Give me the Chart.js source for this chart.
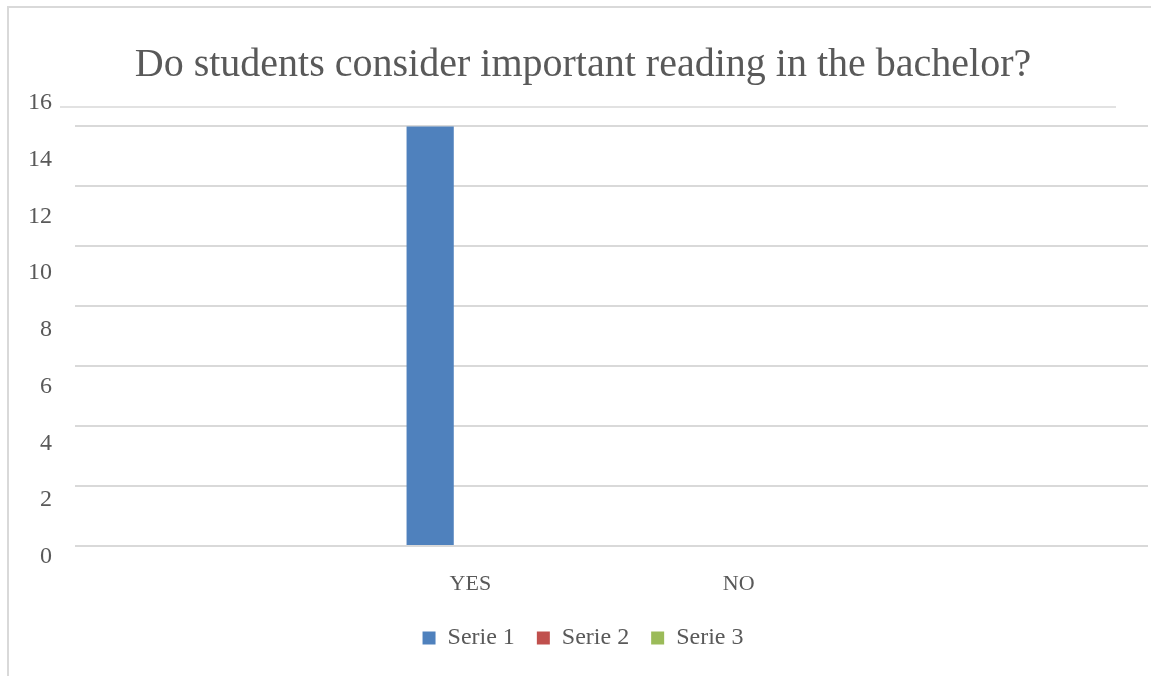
<!DOCTYPE html>
<html>
<head>
<meta charset="utf-8">
<script src="https://cdn.jsdelivr.net/npm/chart.js@4.4.1/dist/chart.umd.min.js"></script>
<style>
  html, body { margin: 0; padding: 0; background: #fff; }
  #frame { position: absolute; left: 7px; top: 6px; width: 1200px; height: 700px;
           border-left: 2px solid #d9d9d9; border-top: 2px solid #d9d9d9; }
  #wrap { position: absolute; left: 0; top: 0; width: 1151px; height: 676px; }
</style>
</head>
<body>
<div id="frame"></div>
<div id="wrap"><canvas id="mycanvas"></canvas></div>
<script>
var categories = ["", "YES", "NO", ""];
var serie1 = [null, 14, 0, null];
var serie2 = [null, 0, 0, null];
var serie3 = [null, 0, 0, null];
var yTicks = [0, 2, 4, 6, 8, 10, 12, 14, 16];

var textColor = "#595959";
var fontFamily = "'Liberation Serif', serif";

// short rule under the title
var titleRule = {
	id: "titleRule",
	beforeDatasetsDraw: function(chart) {
		var a = chart.chartArea, ctx = chart.ctx;
		ctx.save();
		ctx.strokeStyle = "#e2e2e2";
		ctx.lineWidth = 2;
		ctx.beginPath();
		ctx.moveTo(a.left - 15, a.top);
		ctx.lineTo(a.right - 32, a.top);
		ctx.stroke();
		ctx.restore();
	}
};

var chartdata = {
	labels: categories,
	datasets: [
		{ label: "Serie 1", data: serie1, backgroundColor: "#4f81bd" },
		{ label: "Serie 2", data: serie2, backgroundColor: "#c0504d" },
		{ label: "Serie 3", data: serie3, backgroundColor: "#9bbb59" }
	]
};

var ctx = document.getElementById("mycanvas");

var BarGraph = new Chart(ctx, {
	type: "bar",
	data: chartdata,
	plugins: [titleRule],
	options: {
		responsive: true,
		maintainAspectRatio: false,
		animation: false,
		layout: { padding: { left: 18, right: 3, top: 0, bottom: 16 } },
		datasets: { bar: { categoryPercentage: 0.528, barPercentage: 1, borderWidth: 0 } },
		plugins: {
			title: {
				display: true,
				text: "Do students consider important reading in the bachelor?",
				color: textColor,
				font: { family: fontFamily, size: 40, weight: "normal" },
				padding: { top: 41, bottom: 18 }
			},
			legend: {
				position: "bottom",
				labels: {
					color: textColor,
					font: { family: fontFamily, size: 24 },
					boxWidth: 13,
					boxHeight: 13,
					padding: 22
				}
			},
			tooltip: { enabled: false }
		},
		scales: {
			x: {
				grid: { display: false, drawTicks: false },
				border: { display: false },
				ticks: { color: textColor, font: { family: fontFamily, size: 22 }, padding: 25, labelOffset: -7 },
				afterFit: function(scale) { scale.height = 58; }
			},
			y: {
				z: 1,
				min: 0,
				max: 14.65,
				border: { display: false },
				grid: {
					drawTicks: false,
					lineWidth: 2,
					color: function(c) { return c.tick && c.tick.value % 2 === 0 ? "#d9d9d9" : "rgba(0,0,0,0)"; }
				},
				ticks: { display: false, stepSize: 2 }
			},
			yl: {
				position: "left",
				min: 0.38,
				max: 15.85,
				grid: { display: false, drawTicks: false },
				border: { display: false },
				ticks: { color: textColor, font: { family: fontFamily, size: 24 }, padding: 23 },
				afterBuildTicks: function(axis) {
					axis.ticks = yTicks.map(function(v) { return { value: v }; });
				},
				afterFit: function(scale) { scale.width -= 13; }
			}
		}
	}
});
</script>
</body>
</html>
